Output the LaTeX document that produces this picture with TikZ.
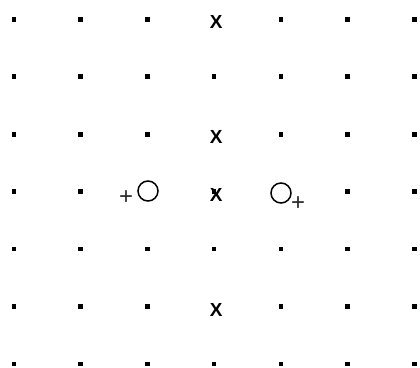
\documentclass[tikz,border=0pt]{standalone}
\usepackage{fontspec}
\newfontfamily\xfont{Liberation Sans}
\begin{document}
\begin{tikzpicture}[x=1bp,y=-1bp,
  gdot/.style={rectangle, fill=black, inner sep=0pt, minimum size=4.6bp},
  xmark/.style={inner sep=0pt, font=\xfont\bfseries\fontsize{19}{19}\selectfont},
  ring/.style={circle, draw, line width=1.5bp, minimum size=20bp, inner sep=0pt},
  plusmark/.style={inner sep=0pt, text=black!85, font=\xfont\fontsize{24}{24}\selectfont}]
\useasboundingbox (0,0) rectangle (420,368);
\foreach \i in {0,1,5,6} {
  \foreach \j in {0,...,6} {
    \node[gdot] (d-\i-\j) at ({14+66.72*\i},{19.3+57.45*\j}) {};
  }
}
\foreach \i in {2,4} {
  \foreach \j in {0,1,2,4,5,6} {
    \node[gdot] (d-\i-\j) at ({14+66.72*\i},{19.3+57.45*\j}) {};
  }
}
\foreach \j in {1,3,4,6} {
  \node[gdot] (d-3-\j) at ({14+66.72*3},{19.3+57.45*\j}) {};
}
\foreach \j in {0,2,3,5} {
  \node[xmark] (x-\j) at ({16+66.72*3},{22.3+57.45*\j}) {X};
}
\node[ring] (cl) at (148,191) {};
\node[ring] (cr) at (281,193) {};
\node[plusmark] (pl) at (126,198) {+};
\node[plusmark] (pr) at (298,204) {+};
\end{tikzpicture}
\end{document}
